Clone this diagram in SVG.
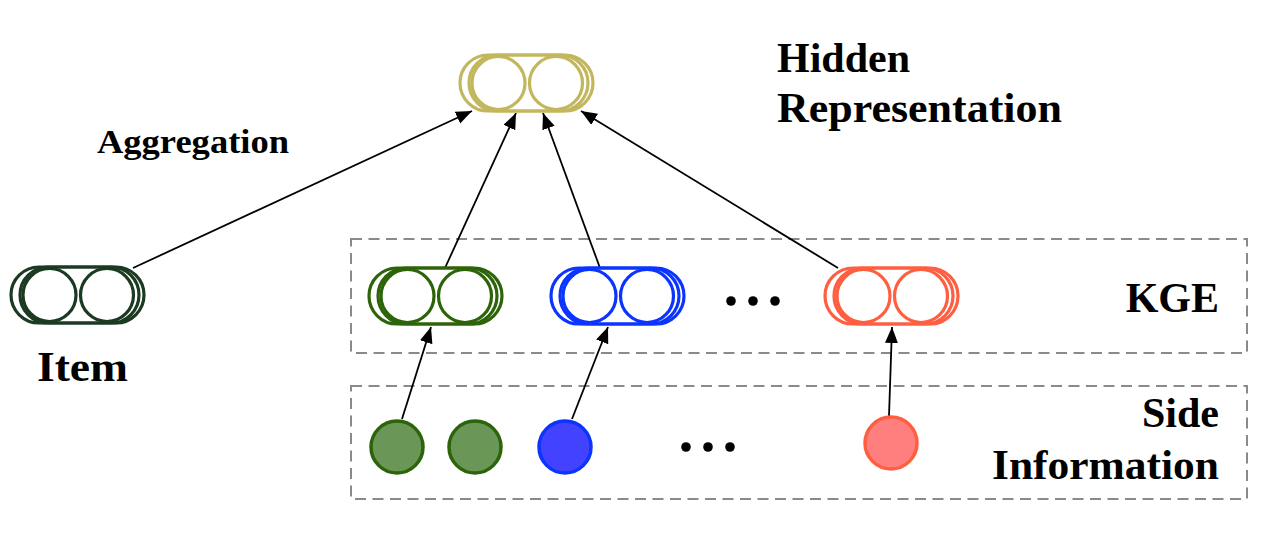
<svg xmlns="http://www.w3.org/2000/svg" xmlns:xlink="http://www.w3.org/1999/xlink" width="1266" height="539" viewBox="0 0 1266 539">
<style>
.cap{fill:none;stroke-width:3.2}
.dot{stroke-width:3.5}
.box{fill:none;stroke:#8a8a8a;stroke-width:2;stroke-dasharray:11 6.5}
.con{stroke:#000;stroke-width:1.8;fill:none;marker-end:url(#ah)}
.t{font-family:"Liberation Serif","Times New Roman",serif;font-weight:bold;fill:#000}
.el{fill:#000}
</style>
<defs>
<marker id="ah" markerUnits="userSpaceOnUse" markerWidth="18" markerHeight="14" refX="16" refY="6.5" orient="auto">
<path d="M0,0 L16,6.5 L0,13 z" fill="#000"/>
</marker>
<g id="capsule" class="cap" stroke="currentColor">
<rect x="0" y="0" width="133" height="56" rx="28" ry="28"/>
<rect x="9" y="0" width="119" height="56" rx="28" ry="28"/>
<circle cx="38.5" cy="28" r="26.5"/>
<circle cx="96" cy="28" r="26.5"/>
</g>
</defs>
<rect fill="#fff" x="0" y="0" width="1266" height="539"/>
<g id="groups">
<rect id="kge-box" class="box" x="351" y="239" width="896" height="114"/>
<rect id="side-box" class="box" x="351" y="386" width="896" height="113"/>
</g>
<g id="connectors">
<line class="con" x1="133" y1="268" x2="472" y2="111"/>
<line class="con" x1="445" y1="268" x2="516" y2="113"/>
<line class="con" x1="600" y1="268" x2="543" y2="113"/>
<line class="con" x1="838" y1="268" x2="581" y2="111"/>
<line class="con" x1="402" y1="419" x2="431" y2="327"/>
<line class="con" x1="572" y1="419" x2="608" y2="327"/>
<line class="con" x1="889" y1="416" x2="892" y2="327"/>
</g>
<g id="hidden"><use xlink:href="#capsule" x="460" y="55" style="color:#c2b75c"/></g>
<g id="item"><use xlink:href="#capsule" x="11" y="267" style="color:#1c3a22"/></g>
<g id="kge-green"><use xlink:href="#capsule" x="369" y="268" style="color:#2e6409"/></g>
<g id="kge-blue"><use xlink:href="#capsule" x="551" y="268" style="color:#0b35ff"/></g>
<g id="kge-red"><use xlink:href="#capsule" x="825" y="268" style="color:#ff5f40"/></g>
<g id="kge-dots"><circle class="el" cx="731" cy="301" r="4.8"/><circle class="el" cx="753" cy="301" r="4.8"/><circle class="el" cx="775" cy="301" r="4.8"/></g>
<g id="side-green-1"><circle class="dot" cx="397" cy="447" r="26" fill="#6a9658" stroke="#2e6409"/></g>
<g id="side-green-2"><circle class="dot" cx="475" cy="447" r="26" fill="#6a9658" stroke="#2e6409"/></g>
<g id="side-blue"><circle class="dot" cx="565" cy="447" r="26" fill="#4242ff" stroke="#0b35ff"/></g>
<g id="side-red"><circle class="dot" cx="891" cy="443" r="26" fill="#ff7f7f" stroke="#ff5f40"/></g>
<g id="side-dots"><circle class="el" cx="686" cy="447" r="4.8"/><circle class="el" cx="708" cy="447" r="4.8"/><circle class="el" cx="730" cy="447" r="4.8"/></g>
<g id="labels">
<text class="t" x="777" y="72" font-size="42">Hidden</text>
<text class="t" x="777" y="122" font-size="42" textLength="285" lengthAdjust="spacingAndGlyphs">Representation</text>
<text class="t" x="97" y="153" font-size="33" textLength="192" lengthAdjust="spacingAndGlyphs">Aggregation</text>
<text class="t" x="37" y="381" font-size="42" textLength="91" lengthAdjust="spacingAndGlyphs">Item</text>
<text class="t" x="1219" y="312" font-size="42" text-anchor="end">KGE</text>
<text class="t" x="1219" y="427" font-size="42" text-anchor="end">Side</text>
<text class="t" x="1219" y="479" font-size="42" text-anchor="end" textLength="227" lengthAdjust="spacingAndGlyphs">Information</text>
</g>
</svg>
